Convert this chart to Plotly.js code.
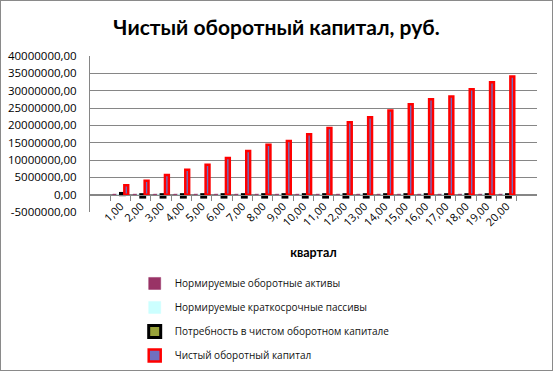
<!DOCTYPE html>
<html><head><meta charset="utf-8">
<script src="https://cdn.plot.ly/plotly-3.0.1.min.js"></script>
<style>
html,body{margin:0;padding:0;background:#fff;}
#wrap{position:relative;width:553px;height:371px;}
#chart{width:553px;height:371px;}
#frame{position:absolute;left:0;top:0;width:553px;height:371px;box-sizing:border-box;border:1px solid #8a8a8a;pointer-events:none;}
</style></head>
<body>
<div id="wrap"><div id="chart"></div><div id="frame"></div></div>
<script>
const quarters = ["1,00","2,00","3,00","4,00","5,00","6,00","7,00","8,00","9,00","10,00",
  "11,00","12,00","13,00","14,00","15,00","16,00","17,00","18,00","19,00","20,00"];
const activeAssets = [150000,150000,150000,150000,150000,150000,150000,150000,150000,150000,
  150000,150000,150000,150000,150000,150000,150000,150000,150000,150000];
const shortLiabilities = [120000,120000,120000,120000,120000,120000,120000,120000,120000,120000,
  120000,120000,120000,120000,120000,120000,120000,120000,120000,120000];
const needWorkingCapital = [350000,-700000,-700000,-700000,-700000,-700000,-700000,-700000,-700000,-700000,
  -700000,-700000,-700000,-700000,-700000,-700000,-700000,-700000,-700000,-700000];
const netWorkingCapital = [2700000,4000000,5700000,7200000,8600000,10600000,12600000,14400000,15500000,17400000,
  19200000,20900000,22300000,24300000,26100000,27500000,28300000,30400000,32400000,34100000];
const seriesNames = ["Нормируемые оборотные активы","Нормируемые краткосрочные пассивы",
  "Потребность в чистом оборотном капитале","Чистый оборотный капитал"];
const yTickVals = [-5000000,0,5000000,10000000,15000000,20000000,25000000,30000000,35000000,40000000];
const yTickText = ["-5000000,00","0,00","5000000,00","10000000,00","15000000,00","20000000,00",
  "25000000,00","30000000,00","35000000,00","40000000,00"];

const font = "Lato, 'Open Sans', 'Liberation Sans', sans-serif";
const tickFont = "'Open Sans', 'Liberation Sans', sans-serif";
const traces = [
  {type:'bar', name:seriesNames[0], x:quarters, y:activeAssets, legendgroup:'a',
   marker:{color:'#993366', line:{color:'#993366', width:0.5}}},
  {type:'bar', name:seriesNames[1], x:quarters, y:shortLiabilities, legendgroup:'b',
   marker:{color:'#ccffff', line:{color:'#ccffff', width:0.5}}},
  {type:'bar', name:seriesNames[2], x:quarters, y:needWorkingCapital, legendgroup:'c',
   marker:{color:'#99a33a', line:{color:'#000000', width:3}}},
  {type:'bar', name:seriesNames[3], x:quarters, y:netWorkingCapital, legendgroup:'d',
   marker:{color:'#7070c0', line:{color:'#ff0000', width:2.5}}}
];
const layout = {
  width:553, height:371,
  margin:{l:90, r:16, t:56, b:159, autoexpand:false},
  paper_bgcolor:'#ffffff', plot_bgcolor:'#ffffff',
  font:{family:font, size:11, color:'#000'},
  title:{text:'<b>Чистый оборотный капитал, руб.</b>', x:0.5, xanchor:'center', y:0.925, yanchor:'middle',
    font:{family:font, size:21, color:'#000'}},
  barmode:'group', bargap:0.24, bargroupgap:0,
  showlegend:true,
  legend:{x:0.10, xanchor:'left', y:-0.365, yanchor:'top', traceorder:'grouped', tracegroupgap:5,
    itemwidth:30, borderwidth:0,
    font:{family:tickFont, size:10, color:'#111'}, bgcolor:'rgba(0,0,0,0)'},
  xaxis:{type:'category', range:[-1.5, 20.5], anchor:'free', position:5/45, automargin:false,
    showline:true, linecolor:'#868686', linewidth:1,
    ticks:'outside', tickson:'boundaries', ticklen:5, tickcolor:'#868686', tickangle:-45,
    showgrid:false, zeroline:false,
    tickfont:{family:tickFont, size:11, color:'#000'},
    title:{text:'<b>квартал</b>', standoff:20, font:{family:font, size:12.5, color:'#000'}}},
  yaxis:{range:[-5000000,40000000], tickvals:yTickVals, ticktext:yTickText, automargin:false,
    showline:true, linecolor:'#868686', linewidth:1, showgrid:true, gridcolor:'#868686', gridwidth:1,
    zeroline:true, zerolinecolor:'#868686', zerolinewidth:1, ticks:'', ticklabelstandoff:10,
    tickfont:{family:tickFont, size:11.5, color:'#000'}}
};
Plotly.newPlot('chart', traces, layout, {displayModeBar:false, staticPlot:true});
</script>
</body></html>
